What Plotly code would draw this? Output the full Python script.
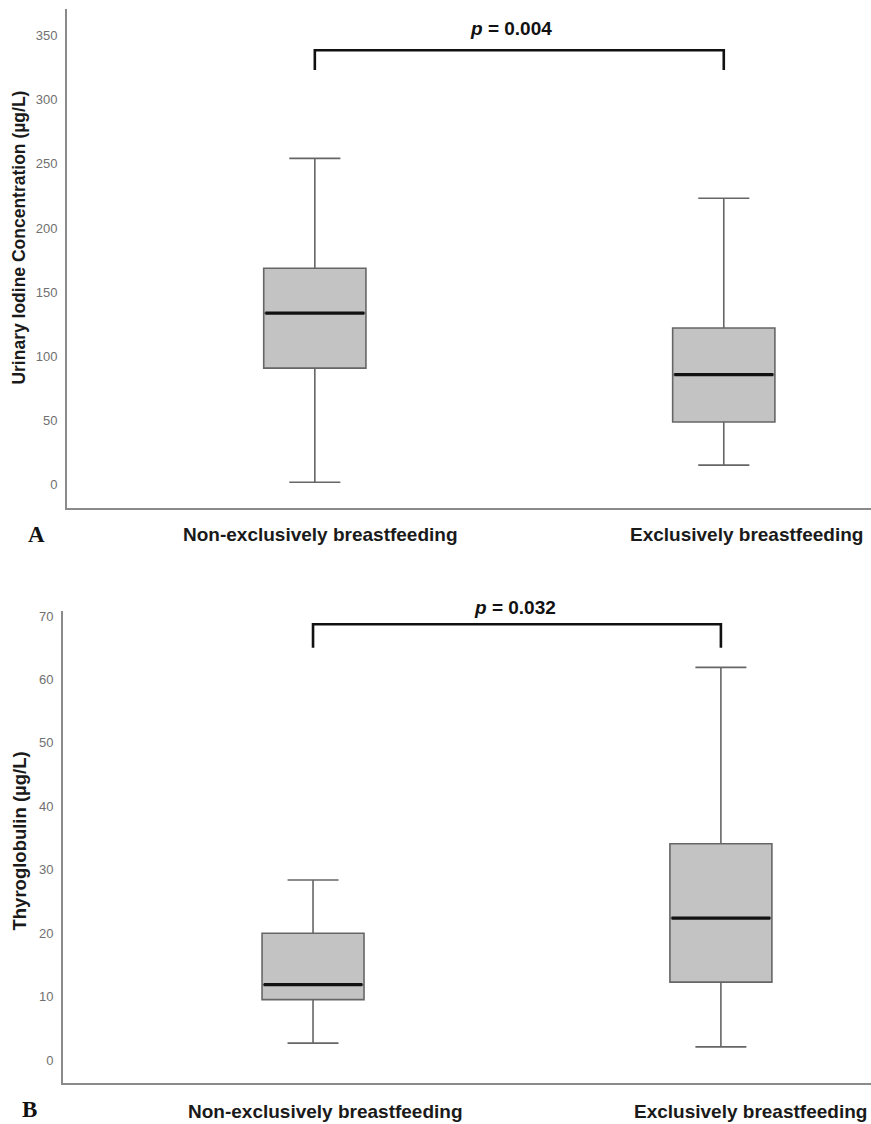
import plotly.graph_objects as go

# ---------------- data ----------------
groups = ["Non-exclusively breastfeeding", "Exclusively breastfeeding"]

# Panel A: Urinary iodine concentration (µg/L)
uic_low = [1.9, 15.2]
uic_q1 = [90.8, 48.8]
uic_median = [133.6, 85.7]
uic_q3 = [168.6, 122.0]
uic_high = [254.2, 223.1]
uic_ticks = [0, 50, 100, 150, 200, 250, 300, 350]

# Panel B: Thyroglobulin (µg/L)
tg_low = [2.7, 2.1]
tg_q1 = [9.55, 12.3]
tg_median = [11.9, 22.4]
tg_q3 = [20.0, 34.1]
tg_high = [28.4, 61.9]
tg_ticks = [0, 10, 20, 30, 40, 50, 60, 70]

p_values = ["0.004", "0.032"]
bracket_a = [323.0, 338.5]   # (drop end, bar level)
bracket_b = [65.0, 68.7]

W, H = 871, 1124
BOX_W = 0.25
fig = go.Figure()

panels = [
    dict(xa="x", ya="y", low=uic_low, q1=uic_q1, med=uic_median, q3=uic_q3, high=uic_high, br=bracket_a, p=p_values[0]),
    dict(xa="x2", ya="y2", low=tg_low, q1=tg_q1, med=tg_median, q3=tg_q3, high=tg_high, br=bracket_b, p=p_values[1]),
]

for pn in panels:
    for i, g in enumerate(groups):
        fig.add_trace(go.Box(
            x=[i], q1=[pn["q1"][i]], median=[pn["med"][i]], q3=[pn["q3"][i]],
            lowerfence=[pn["low"][i]], upperfence=[pn["high"][i]],
            width=BOX_W, whiskerwidth=0.5, boxpoints=False,
            fillcolor="#c3c3c3", line=dict(color="#666666", width=1.6),
            name=g, xaxis=pn["xa"], yaxis=pn["ya"], showlegend=False, hoverinfo="skip"))
        fig.add_trace(go.Scatter(
            x=[i - BOX_W / 2 + 0.004, i + BOX_W / 2 - 0.004], y=[pn["med"][i], pn["med"][i]],
            mode="lines", line=dict(color="#111111", width=3.2),
            xaxis=pn["xa"], yaxis=pn["ya"], showlegend=False, hoverinfo="skip"))
    fig.add_trace(go.Scatter(
        x=[0, 0, 1, 1], y=[pn["br"][0], pn["br"][1], pn["br"][1], pn["br"][0]],
        mode="lines", line=dict(color="#111111", width=2.6),
        xaxis=pn["xa"], yaxis=pn["ya"], showlegend=False, hoverinfo="skip", cliponaxis=False))

tickfont = dict(family="Liberation Sans, Arial", size=13, color="#707070")
axline = dict(showline=True, linecolor="#8a8a8a", linewidth=2, showgrid=False, zeroline=False,
              ticks="", mirror=False)

fig.update_layout(
    width=W, height=H, margin=dict(l=0, r=0, t=0, b=0),
    paper_bgcolor="white", plot_bgcolor="white",
    xaxis=dict(domain=[67 / W, 1.0], range=[-0.606, 1.36], anchor="y", showticklabels=False, **axline),
    yaxis=dict(domain=[1 - 507 / H, 1 - 7 / H], range=[-18.3, 370.6], anchor="x",
               tickvals=uic_ticks, tickfont=tickfont, ticklabelstandoff=5, **axline),
    xaxis2=dict(domain=[63 / W, 1.0], range=[-0.613, 1.368], anchor="y2", showticklabels=False, **axline),
    yaxis2=dict(domain=[1 - 1083 / H, 1 - 610 / H], range=[-3.6, 70.8], anchor="x2",
                tickvals=tg_ticks, tickfont=tickfont, ticklabelstandoff=5, **axline),
)


def note(text, px, py, font, angle=0):
    return dict(text=text, x=px / W, y=1 - py / H, xref="paper", yref="paper", showarrow=False,
                xanchor="center", yanchor="middle", textangle=angle, font=font)


lab_font = dict(family="Liberation Sans, Arial", size=19, color="#1a1a1a", weight="bold")
ann = [
    note(groups[0], 320, 533, lab_font),
    note(groups[1], 746, 533, lab_font),
    note(groups[0], 325, 1111, lab_font),
    note(groups[1], 750, 1111, lab_font),
    note("Urinary Iodine Concentration (µg/L)", 19, 236,
         dict(family="Liberation Sans, Arial", size=17.5, color="#1a1a1a", weight="bold"), -90),
    note("Thyroglobulin (µg/L)", 20, 841,
         dict(family="Liberation Sans, Arial", size=18.5, color="#1a1a1a", weight="bold"), -90),
]
p_font = dict(family="Liberation Sans, Arial", size=19, color="#111111", weight="bold")
ann.append(note("<i>p</i> = " + p_values[0], 511, 27, p_font))
ann.append(note("<i>p</i> = " + p_values[1], 515, 607, p_font))
let_font = dict(family="Liberation Serif, Times New Roman", size=23, color="#111111", weight="bold")
ann.append(note("A", 36, 533, let_font))
ann.append(note("B", 30, 1109, let_font))

fig.update_layout(annotations=ann)
fig.write_html("out.html", config={"displayModeBar": False},
               post_script="document.body.style.margin='0';document.body.style.overflow='hidden';")
